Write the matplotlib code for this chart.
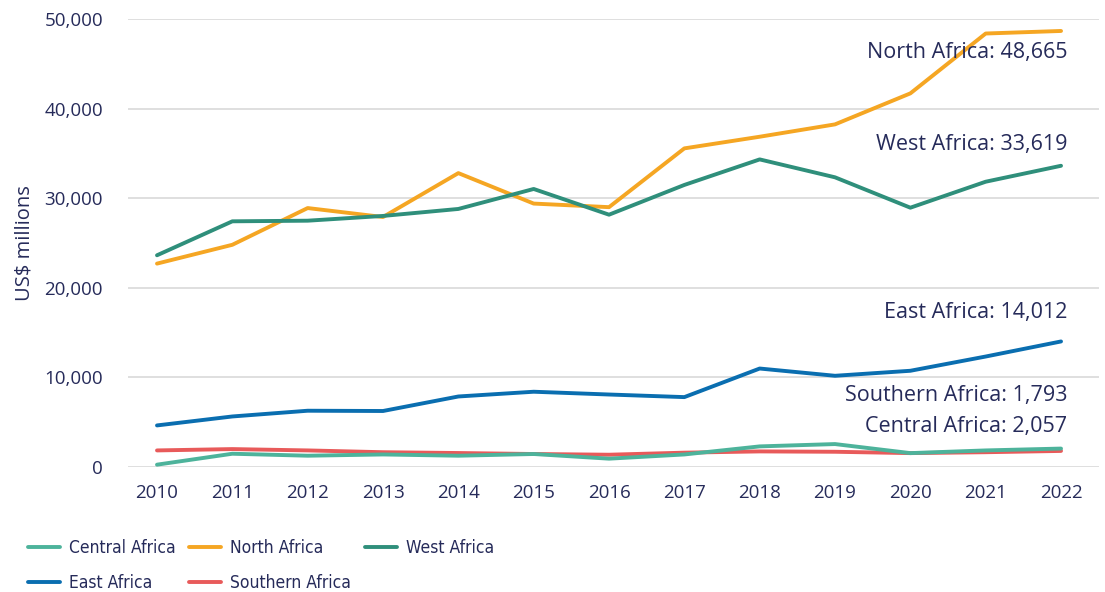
import matplotlib
matplotlib.use("Agg")
import matplotlib.pyplot as plt
from matplotlib.ticker import FuncFormatter

years = list(range(2010, 2023))

central_africa = [260, 1480, 1260, 1400, 1260, 1450, 930, 1400, 2300, 2560, 1550, 1850, 2057]
east_africa = [4640, 5640, 6280, 6250, 7870, 8400, 8090, 7800, 10990, 10180, 10740, 12330, 14012]
north_africa = [22700, 24800, 28900, 27900, 32800, 29400, 29000, 35560, 36860, 38240, 41700, 48380, 48665]
southern_africa = [1850, 2000, 1850, 1650, 1560, 1450, 1370, 1600, 1740, 1700, 1550, 1650, 1793]
west_africa = [23630, 27420, 27490, 28020, 28800, 31030, 28160, 31480, 34330, 32330, 28940, 31840, 33619]

TEXT = "#262B5A"
plt.rcParams["font.family"] = ["Open Sans", "DejaVu Sans"]

fig = plt.figure(figsize=(11.05, 5.92), dpi=100)
ax = fig.add_axes([128 / 1105, 1 - 467 / 592, (1099 - 128) / 1105, (467 - 19) / 592])

series = [
    ("Central Africa", central_africa, "#4DB39B", 22),
    ("East Africa", east_africa, "#0A6EB0", 29),
    ("North Africa", north_africa, "#F5A623", -22),
    ("Southern Africa", southern_africa, "#E85A5A", 55),
    ("West Africa", west_africa, "#2F8F7B", 21),
]

for name, vals, col, off in series:
    ax.plot(years, vals, color=col, linewidth=2.8, label=name, solid_capstyle="round")
    ax.annotate(f"{name}: {vals[-1]:,}", xy=(years[-1], vals[-1]),
                xytext=(6, off), textcoords="offset pixels",
                ha="right", va="center", fontsize=15.5, color=TEXT)

# keep the light teal above the red, like the source
ax.lines[0].set_zorder(3)

ax.set_xlim(2009.615, 2022.504)
ax.set_ylim(0, 50000)
ax.set_xticks(years)
ax.set_yticks(range(0, 50001, 10000))
ax.yaxis.set_major_formatter(FuncFormatter(lambda v, p: f"{int(v):,}"))
ax.tick_params(axis="both", length=0, labelsize=13.5, labelcolor=TEXT)
ax.tick_params(axis="y", pad=18)
ax.tick_params(axis="x", pad=12)
ax.grid(axis="y", color="#D9D9D9", linewidth=1.2)
ax.set_axisbelow(True)
for s in ax.spines.values():
    s.set_visible(False)

ax.set_ylabel("US$ millions", fontsize=14.5, color=TEXT, labelpad=7)

handles, labels = ax.get_legend_handles_labels()
leg = fig.legend(handles, labels, ncol=3, loc="upper left",
                 bbox_to_anchor=(12 / 1105, 1 - 523 / 592), frameon=False,
                 handlelength=1.84, handletextpad=0.52, columnspacing=0.8,
                 labelspacing=1.0,
                 prop={"family": "DejaVu Sans", "stretch": "condensed", "size": 12.5})
for t in leg.get_texts():
    t.set_color(TEXT)

fig.savefig("out.png", dpi=100)
